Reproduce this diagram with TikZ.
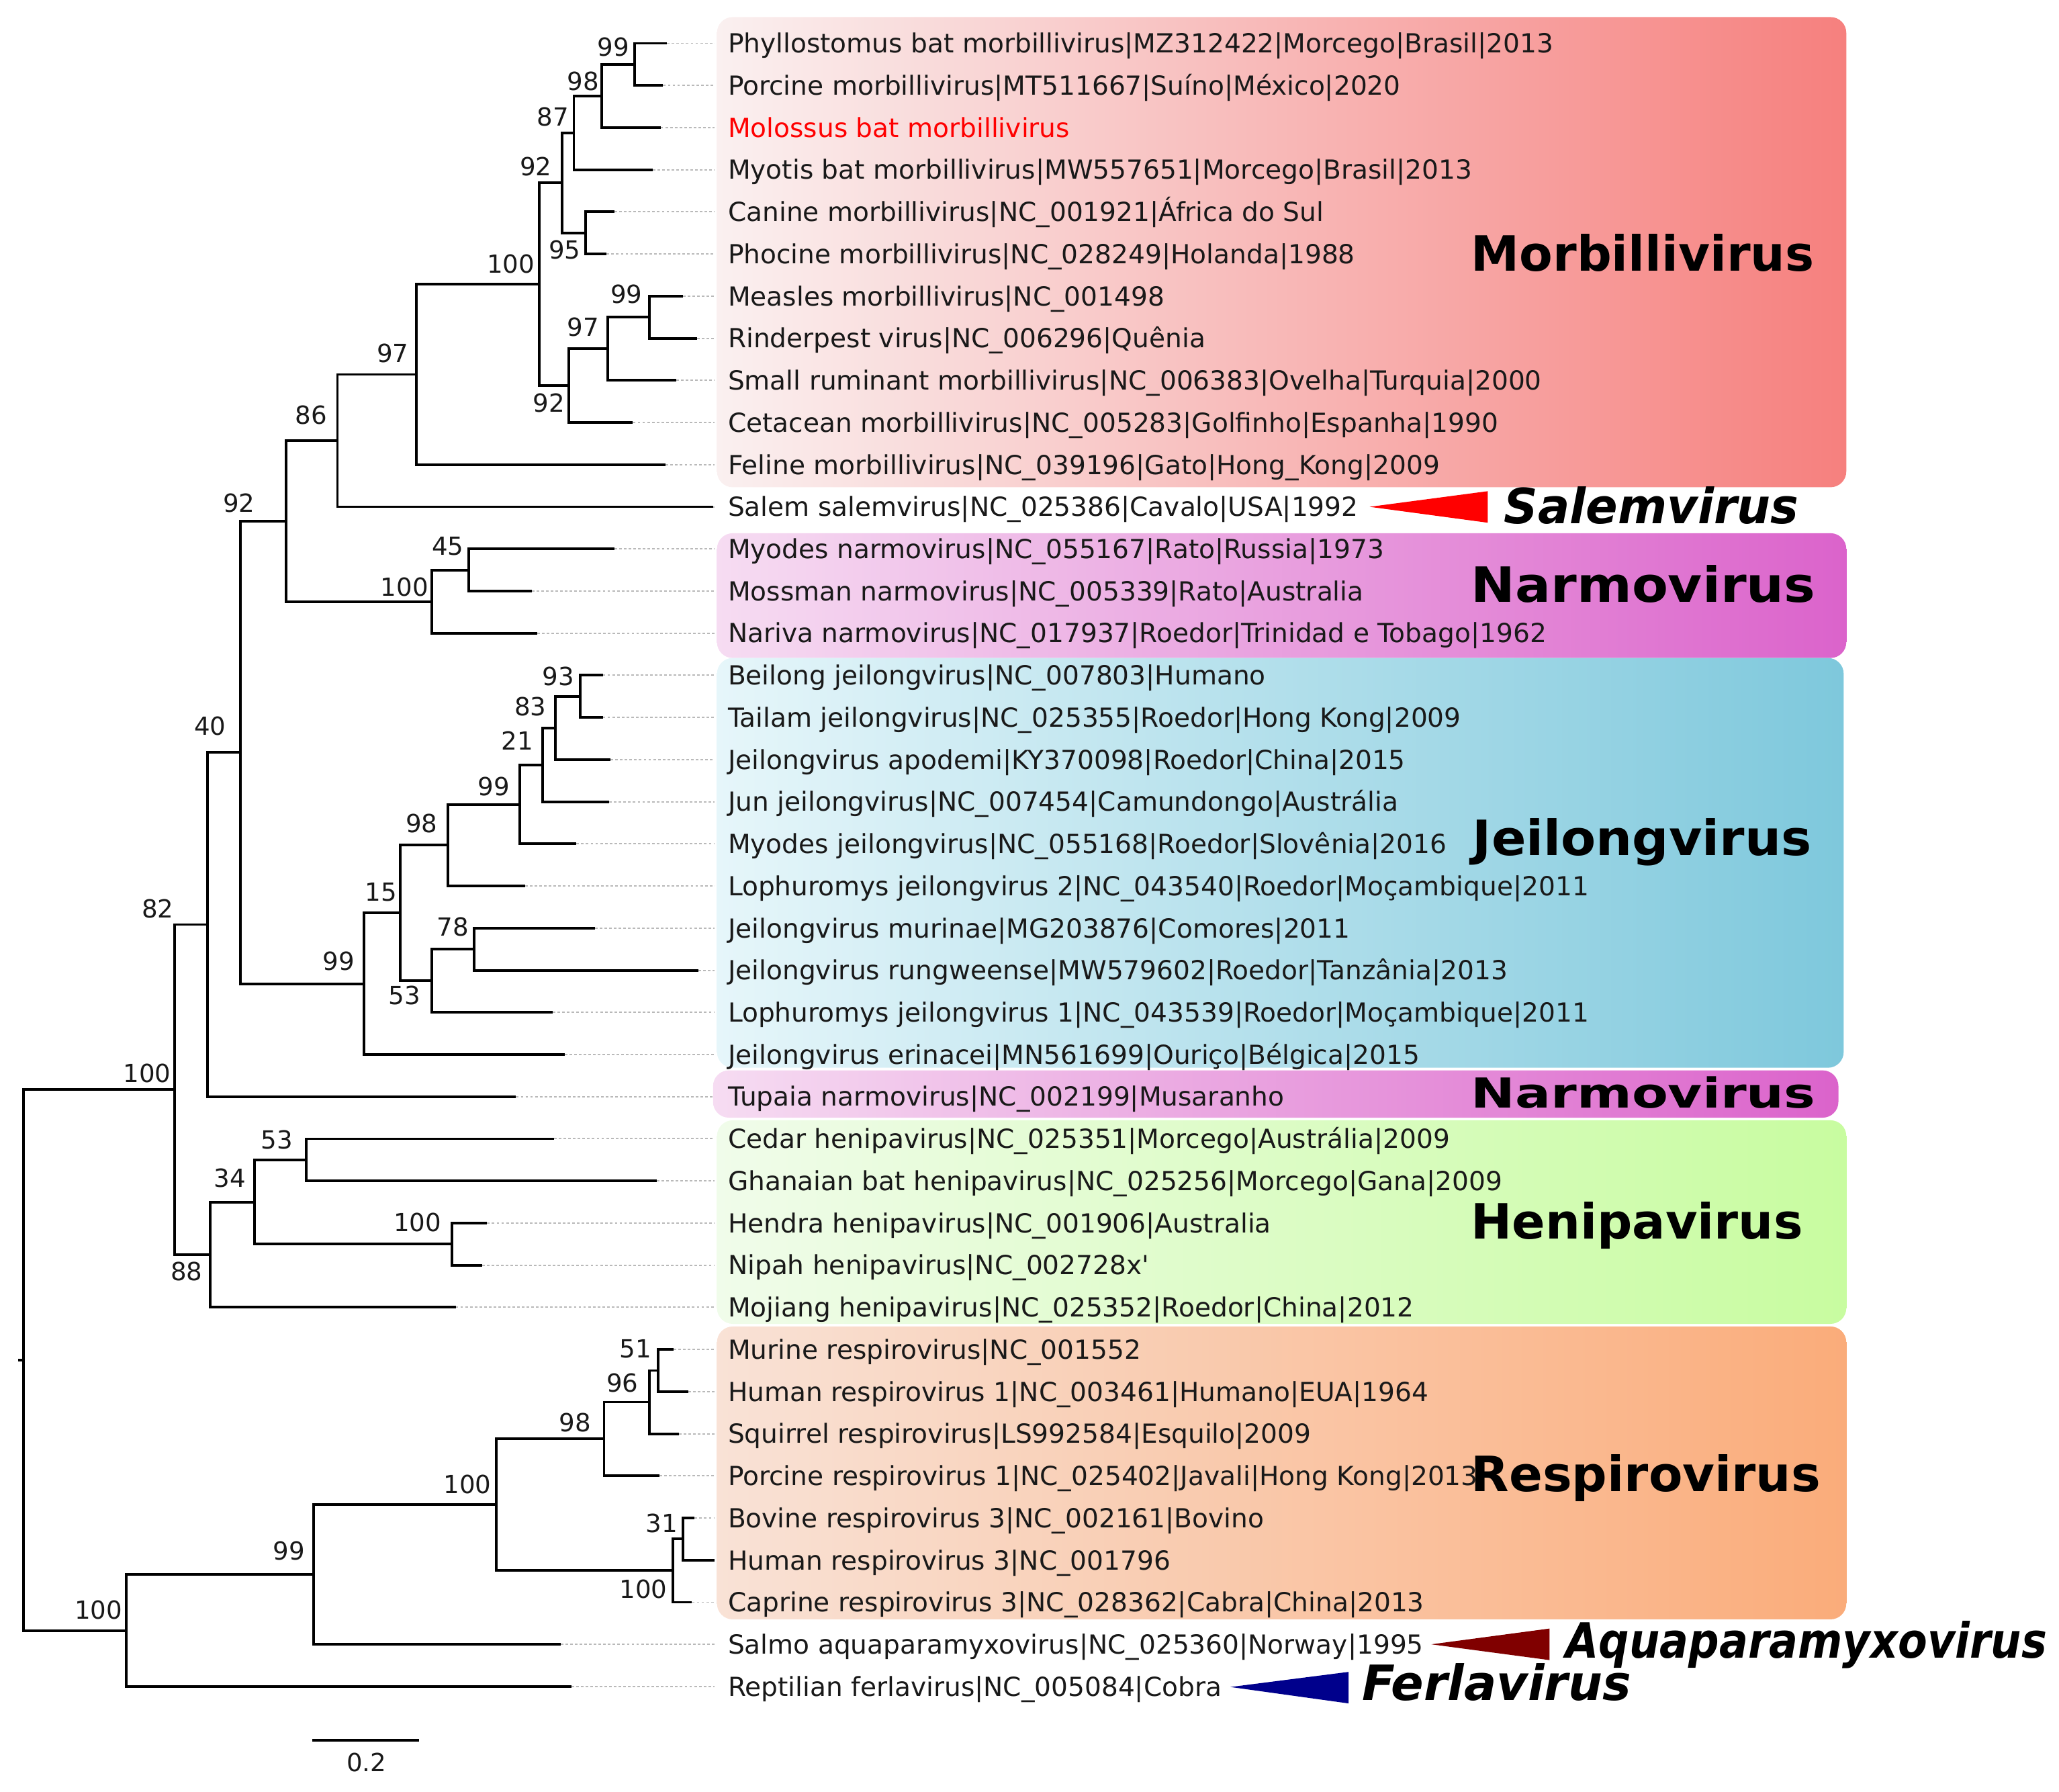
\documentclass[tikz,border=0pt]{standalone}
\usepackage{fontspec}
\setmainfont{DejaVu Sans}
\newfontfamily\labfont{DejaVu Sans}
\newfontfamily\supfont{DejaVu Sans}
\newfontfamily\cladefont{DejaVu Sans}
\definecolor{morbL}{RGB}{250,240,240}
\definecolor{morbR}{RGB}{246,128,126}
\definecolor{narmL}{RGB}{246,220,242}
\definecolor{narmR}{RGB}{219,99,203}
\definecolor{jeilL}{RGB}{230,246,250}
\definecolor{jeilR}{RGB}{126,200,220}
\definecolor{heniL}{RGB}{240,252,234}
\definecolor{heniR}{RGB}{200,252,160}
\definecolor{respL}{RGB}{249,226,214}
\definecolor{respR}{RGB}{250,172,122}
\definecolor{salemred}{RGB}{255,0,0}
\definecolor{aquared}{RGB}{128,0,0}
\definecolor{ferblue}{RGB}{0,0,140}
\definecolor{leadgray}{RGB}{185,185,185}
\definecolor{txt}{RGB}{25,25,25}
\tikzset{
  branch/.style={line width=1pt, black},
  leader/.style={leadgray, line width=0.5pt, dash pattern=on 1pt off 0.8pt},
  leaf/.style={font=\labfont\fontsize{10}{12}\selectfont, text=txt, anchor=west, inner xsep=5pt, inner ysep=0pt, text height=7.29pt, text depth=0pt},
  sup/.style={font=\supfont\fontsize{9.5}{11}\selectfont, text=txt, inner sep=0pt, text height=6.9pt, text depth=0pt},
  clade/.style={font=\cladefont\fontsize{18.5}{20}\selectfont\bfseries, anchor=west, inner sep=0pt, text height=13.5pt, text depth=0pt},
  cladeit/.style={clade, font=\cladefont\fontsize{18.5}{20}\selectfont\bfseries\itshape},
  cladebox/.style={rounded corners=6pt},
  wedge/.style={draw=none}
}
\begin{document}
\begin{tikzpicture}[x=0.5pt, y=-0.5pt]
\useasboundingbox (0,0) rectangle (1568,1364);
% clade boxes
\shade[cladebox, left color=morbL, right color=morbR] (546,13) rectangle (1406,371);
\shade[cladebox, left color=narmL, right color=narmR] (546,406) rectangle (1406,501);
\shade[cladebox, left color=jeilL, right color=jeilR] (546,501) rectangle (1404,813);
\shade[cladebox, left color=narmL, right color=narmR] (543,815) rectangle (1400,851);
\shade[cladebox, left color=heniL, right color=heniR] (546,853) rectangle (1406,1008);
\shade[cladebox, left color=respL, right color=respR] (546,1010) rectangle (1406,1233);
% leaf tips
\coordinate (t1) at (508,33);
\coordinate (t2) at (505,65.08);
\coordinate (t3) at (503,97.16);
\coordinate (t4) at (497,129.24);
\coordinate (t5) at (468,161.32);
\coordinate (t6) at (462,193.4);
\coordinate (t7) at (520,225.48);
\coordinate (t8) at (531,257.56);
\coordinate (t9) at (515,289.64);
\coordinate (t10) at (482,321.72);
\coordinate (t11) at (507,353.8);
\coordinate (t12) at (543,385.88);
\coordinate (t13) at (468,417.96);
\coordinate (t14) at (405,450.04);
\coordinate (t15) at (409,482.12);
\coordinate (t16) at (459,514.2);
\coordinate (t17) at (459,546.28);
\coordinate (t18) at (465,578.36);
\coordinate (t19) at (464,610.44);
\coordinate (t20) at (439,642.52);
\coordinate (t21) at (400,674.6);
\coordinate (t22) at (453,706.68);
\coordinate (t23) at (532,738.76);
\coordinate (t24) at (421,770.84);
\coordinate (t25) at (430,802.92);
\coordinate (t26) at (393,835);
\coordinate (t27) at (422,867.08);
\coordinate (t28) at (500,899.16);
\coordinate (t29) at (371,931.24);
\coordinate (t30) at (367,963.32);
\coordinate (t31) at (347,995.4);
\coordinate (t32) at (513,1027.48);
\coordinate (t33) at (524,1059.56);
\coordinate (t34) at (517,1091.64);
\coordinate (t35) at (502,1123.72);
\coordinate (t36) at (529,1155.8);
\coordinate (t37) at (544,1187.88);
\coordinate (t38) at (527,1219.96);
\coordinate (t39) at (427,1252.04);
\coordinate (t40) at (435,1284.12);
% internal nodes
\coordinate (a1) at (483.5,49.04);
\coordinate (a2) at (458,73.1);
\coordinate (a3) at (437,101.17);
\coordinate (a4) at (446,177.36);
\coordinate (a5) at (428,139.27);
\coordinate (a6) at (494.5,241.52);
\coordinate (a7) at (463,265.58);
\coordinate (a8) at (433,293.65);
\coordinate (a9) at (410.5,216.46);
\coordinate (a10) at (317,285.13);
\coordinate (a11) at (257,335.5);
\coordinate (b1) at (357,434);
\coordinate (b2) at (329,458.06);
\coordinate (a12) at (218,396.78);
\coordinate (c1) at (442,530.24);
\coordinate (c2) at (423,554.3);
\coordinate (c3) at (413,582.37);
\coordinate (c4) at (396,612.45);
\coordinate (c5) at (341,643.52);
\coordinate (c6) at (361,722.72);
\coordinate (c7) at (329,746.78);
\coordinate (c8) at (305,695.15);
\coordinate (c9) at (277,749.04);
\coordinate (d1) at (183,572.91);
\coordinate (d2) at (158,703.96);
\coordinate (h1) at (233,883.12);
\coordinate (h2) at (344,947.28);
\coordinate (h3) at (194,915.2);
\coordinate (h4) at (160,955.3);
\coordinate (d3) at (133,829.63);
\coordinate (r1) at (501,1043.52);
\coordinate (r2) at (494.5,1067.58);
\coordinate (r3) at (460,1095.65);
\coordinate (r4) at (520,1171.84);
\coordinate (r5) at (512.5,1195.9);
\coordinate (r6) at (378,1145.78);
\coordinate (r7) at (239,1198.91);
\coordinate (r8) at (96,1241.5);
\coordinate (root) at (18,1035.57);
\coordinate (rstub) at (14,1035.57);
% branches
\draw[branch] (a1) |- (t1) (a1) |- (t2);
\draw[branch] (a2) |- (a1) (a2) |- (t3);
\draw[branch] (a3) |- (a2) (a3) |- (t4);
\draw[branch] (a4) |- (t5) (a4) |- (t6);
\draw[branch] (a5) |- (a3) (a5) |- (a4);
\draw[branch] (a6) |- (t7) (a6) |- (t8);
\draw[branch] (a7) |- (a6) (a7) |- (t9);
\draw[branch] (a8) |- (a7) (a8) |- (t10);
\draw[branch] (a9) |- (a5) (a9) |- (a8);
\draw[branch] (a10) |- (a9) (a10) |- (t11);
\draw[branch] (a11) |- (a10) (a11) |- (t12);
\draw[branch] (b1) |- (t13) (b1) |- (t14);
\draw[branch] (b2) |- (b1) (b2) |- (t15);
\draw[branch] (a12) |- (a11) (a12) |- (b2);
\draw[branch] (c1) |- (t16) (c1) |- (t17);
\draw[branch] (c2) |- (c1) (c2) |- (t18);
\draw[branch] (c3) |- (c2) (c3) |- (t19);
\draw[branch] (c4) |- (c3) (c4) |- (t20);
\draw[branch] (c5) |- (c4) (c5) |- (t21);
\draw[branch] (c6) |- (t22) (c6) |- (t23);
\draw[branch] (c7) |- (c6) (c7) |- (t24);
\draw[branch] (c8) |- (c5) (c8) |- (c7);
\draw[branch] (c9) |- (c8) (c9) |- (t25);
\draw[branch] (d1) |- (a12) (d1) |- (c9);
\draw[branch] (d2) |- (d1) (d2) |- (t26);
\draw[branch] (h1) |- (t27) (h1) |- (t28);
\draw[branch] (h2) |- (t29) (h2) |- (t30);
\draw[branch] (h3) |- (h1) (h3) |- (h2);
\draw[branch] (h4) |- (h3) (h4) |- (t31);
\draw[branch] (d3) |- (d2) (d3) |- (h4);
\draw[branch] (r1) |- (t32) (r1) |- (t33);
\draw[branch] (r2) |- (r1) (r2) |- (t34);
\draw[branch] (r3) |- (r2) (r3) |- (t35);
\draw[branch] (r4) |- (t36) (r4) |- (t37);
\draw[branch] (r5) |- (r4) (r5) |- (t38);
\draw[branch] (r6) |- (r3) (r6) |- (r5);
\draw[branch] (r7) |- (r6) (r7) |- (t39);
\draw[branch] (r8) |- (r7) (r8) |- (t40);
\draw[branch] (root) |- (d3) (root) |- (r8);
\draw[branch] (rstub) -- (root);
% leaf labels
\node[leaf] (l1) at (544,33) {Phyllostomus bat morbillivirus|MZ312422|Morcego|Brasil|2013};
\node[leaf] (l2) at (544,65.08) {Porcine morbillivirus|MT511667|Suíno|México|2020};
\node[leaf, text=salemred] (l3) at (544,97.16) {Molossus bat morbillivirus};
\node[leaf] (l4) at (544,129.24) {Myotis bat morbillivirus|MW557651|Morcego|Brasil|2013};
\node[leaf] (l5) at (544,161.32) {Canine morbillivirus|NC\_001921|África do Sul};
\node[leaf] (l6) at (544,193.4) {Phocine morbillivirus|NC\_028249|Holanda|1988};
\node[leaf] (l7) at (544,225.48) {Measles morbillivirus|NC\_001498};
\node[leaf] (l8) at (544,257.56) {Rinderpest virus|NC\_006296|Quênia};
\node[leaf] (l9) at (544,289.64) {Small ruminant morbillivirus|NC\_006383|Ovelha|Turquia|2000};
\node[leaf] (l10) at (544,321.72) {Cetacean morbillivirus|NC\_005283|Golfinho|Espanha|1990};
\node[leaf] (l11) at (544,353.8) {Feline morbillivirus|NC\_039196|Gato|Hong\_Kong|2009};
\node[leaf] (l12) at (544,385.88) {Salem salemvirus|NC\_025386|Cavalo|USA|1992};
\node[leaf] (l13) at (544,417.96) {Myodes narmovirus|NC\_055167|Rato|Russia|1973};
\node[leaf] (l14) at (544,450.04) {Mossman narmovirus|NC\_005339|Rato|Australia};
\node[leaf] (l15) at (544,482.12) {Nariva narmovirus|NC\_017937|Roedor|Trinidad e Tobago|1962};
\node[leaf] (l16) at (544,514.2) {Beilong jeilongvirus|NC\_007803|Humano};
\node[leaf] (l17) at (544,546.28) {Tailam jeilongvirus|NC\_025355|Roedor|Hong Kong|2009};
\node[leaf] (l18) at (544,578.36) {Jeilongvirus apodemi|KY370098|Roedor|China|2015};
\node[leaf] (l19) at (544,610.44) {Jun jeilongvirus|NC\_007454|Camundongo|Austrália};
\node[leaf] (l20) at (544,642.52) {Myodes jeilongvirus|NC\_055168|Roedor|Slovênia|2016};
\node[leaf] (l21) at (544,674.6) {Lophuromys jeilongvirus 2|NC\_043540|Roedor|Moçambique|2011};
\node[leaf] (l22) at (544,706.68) {Jeilongvirus murinae|MG203876|Comores|2011};
\node[leaf] (l23) at (544,738.76) {Jeilongvirus rungweense|MW579602|Roedor|Tanzânia|2013};
\node[leaf] (l24) at (544,770.84) {Lophuromys jeilongvirus 1|NC\_043539|Roedor|Moçambique|2011};
\node[leaf] (l25) at (544,802.92) {Jeilongvirus erinacei|MN561699|Ouriço|Bélgica|2015};
\node[leaf] (l26) at (544,835) {Tupaia narmovirus|NC\_002199|Musaranho};
\node[leaf] (l27) at (544,867.08) {Cedar henipavirus|NC\_025351|Morcego|Austrália|2009};
\node[leaf] (l28) at (544,899.16) {Ghanaian bat henipavirus|NC\_025256|Morcego|Gana|2009};
\node[leaf] (l29) at (544,931.24) {Hendra henipavirus|NC\_001906|Australia};
\node[leaf] (l30) at (544,963.32) {Nipah henipavirus|NC\_002728x\textquotesingle};
\node[leaf] (l31) at (544,995.4) {Mojiang henipavirus|NC\_025352|Roedor|China|2012};
\node[leaf] (l32) at (544,1027.48) {Murine respirovirus|NC\_001552};
\node[leaf] (l33) at (544,1059.56) {Human respirovirus 1|NC\_003461|Humano|EUA|1964};
\node[leaf] (l34) at (544,1091.64) {Squirrel respirovirus|LS992584|Esquilo|2009};
\node[leaf] (l35) at (544,1123.72) {Porcine respirovirus 1|NC\_025402|Javali|Hong Kong|2013};
\node[leaf] (l36) at (544,1155.8) {Bovine respirovirus 3|NC\_002161|Bovino};
\node[leaf] (l37) at (544,1187.88) {Human respirovirus 3|NC\_001796};
\node[leaf] (l38) at (544,1219.96) {Caprine respirovirus 3|NC\_028362|Cabra|China|2013};
\node[leaf] (l39) at (544,1252.04) {Salmo aquaparamyxovirus|NC\_025360|Norway|1995};
\node[leaf] (l40) at (544,1284.12) {Reptilian ferlavirus|NC\_005084|Cobra};
% leaders
\foreach \i in {1,...,40} { \draw[leader] (t\i) -- (l\i.west); }
% support values
\node[sup] (s1) at (467,36) {99};
\node[sup] (s2) at (444,62) {98};
\node[sup] (s3) at (421,89) {87};
\node[sup] (s5) at (408,127) {92};
\node[sup] (s4) at (430,190) {95};
\node[sup] (s9) at (389,201) {100};
\node[sup] (s6) at (477,224) {99};
\node[sup] (s7) at (444,249) {97};
\node[sup] (s10) at (299,269) {97};
\node[sup] (s8) at (418,307) {92};
\node[sup] (s11) at (237,316) {86};
\node[sup] (s12) at (182,383) {92};
\node[sup] (sb1) at (341,416) {45};
\node[sup] (sb2) at (308,447) {100};
\node[sup] (sc1) at (425,515) {93};
\node[sup] (sc2) at (404,538) {83};
\node[sup] (sd1) at (160,553) {40};
\node[sup] (sc3) at (394,564) {21};
\node[sup] (sc4) at (376,599) {99};
\node[sup] (sc5) at (321,627) {98};
\node[sup] (sc8) at (290,679) {15};
\node[sup] (sd2) at (120,692) {82};
\node[sup] (sc6) at (345,706) {78};
\node[sup] (sc9) at (258,732) {99};
\node[sup] (sc7) at (308,758) {53};
\node[sup] (sd3) at (112,817) {100};
\node[sup] (sh1) at (211,868) {53};
\node[sup] (sh3) at (175,897) {34};
\node[sup] (sh2) at (318,931) {100};
\node[sup] (sh4) at (142,968) {88};
\node[sup] (sr1) at (484,1027) {51};
\node[sup] (sr2) at (474,1053) {96};
\node[sup] (sr3) at (438,1083) {98};
\node[sup] (sr6) at (356,1130) {100};
\node[sup] (sr4) at (504,1160) {31};
\node[sup] (sr7) at (220,1181) {99};
\node[sup] (sr5) at (490,1210) {100};
\node[sup] (sr8) at (75,1226) {100};
% scale bar
\coordinate (sbL) at (238,1325);
\coordinate (sbR) at (319,1325);
\draw[branch] (sbL) -- (sbR);
\node[sup] (sbt) at (279,1342) {0.2};
% wedges
\coordinate (w1tip) at (1043,385.9);
\coordinate (w1a) at (1133,374);
\coordinate (w1b) at (1133,398);
\fill[salemred] (w1tip) -- (w1a) -- (w1b) -- cycle;
\coordinate (w2tip) at (1090,1252);
\coordinate (w2a) at (1180,1240);
\coordinate (w2b) at (1180,1264);
\fill[aquared] (w2tip) -- (w2a) -- (w2b) -- cycle;
\coordinate (w3tip) at (937,1284.5);
\coordinate (w3a) at (1027,1273);
\coordinate (w3b) at (1027,1297);
\fill[ferblue] (w3tip) -- (w3a) -- (w3b) -- cycle;
% clade labels
\node[clade, xscale=1.0] (cm) at (1120,193) {Morbillivirus};
\node[cladeit, xscale=0.97] (cs) at (1145,385) {Salemvirus};
\node[clade, xscale=1.085] (cn1) at (1120,445) {Narmovirus};
\node[clade, xscale=1.05] (cj) at (1121,638) {Jeilongvirus};
\node[clade, xscale=1.085, yscale=0.85] (cn2) at (1120,832) {Narmovirus};
\node[clade, xscale=1.01] (ch) at (1120,930) {Henipavirus};
\node[clade, xscale=1.016] (cr) at (1120,1122) {Respirovirus};
\node[cladeit, xscale=0.88] (ca) at (1192,1249) {Aquaparamyxovirus};
\node[cladeit, xscale=0.99] (cf) at (1037,1281) {Ferlavirus};
\end{tikzpicture}
\end{document}
